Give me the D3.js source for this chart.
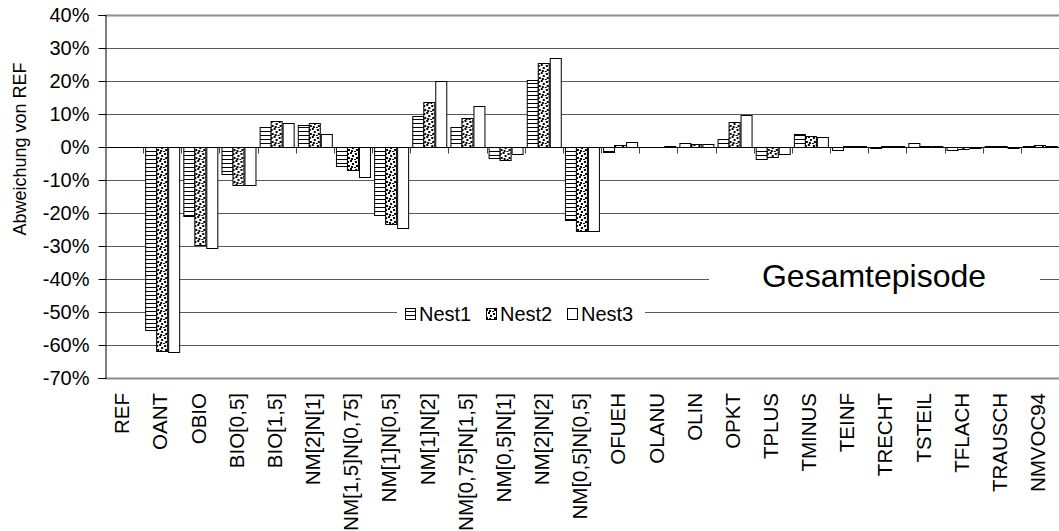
<!DOCTYPE html>
<html>
<head>
<meta charset="utf-8">
<script src="https://cdn.jsdelivr.net/npm/d3@7/dist/d3.min.js"></script>
<style>
  html, body { margin: 0; padding: 0; background: #fff; }
  svg { display: block; font-family: "Liberation Sans", Arial, sans-serif; }
</style>
</head>
<body>
<svg id="chart" width="1059" height="531"></svg>
<script>
// Scenario names along the x axis
const categories = ["REF", "OANT", "OBIO", "BIO[0,5]", "BIO[1,5]", "NM[2]N[1]", "NM[1,5]N[0,75]",
  "NM[1]N[0,5]", "NM[1]N[2]", "NM[0,75]N[1,5]", "NM[0,5]N[1]", "NM[2]N[2]", "NM[0,5]N[0,5]",
  "OFUEH", "OLANU", "OLIN", "OPKT", "TPLUS", "TMINUS", "TEINF", "TRECHT", "TSTEIL", "TFLACH",
  "TRAUSCH", "NMVOC94"];

// Deviation from REF in percent, one array per nesting level
const nest1 = [0, -55.5, -20.9, -8.2, 6.1, 6.6, -5.8, -20.6, 9.3, 6.1, -3.4, 20.2, -22.2,
  -1.4, 0.1, 1.2, 2.5, -3.5, 4.0, -0.8, -0.3, 1.2, -1.0, 0.2, 0.4];
const nest2 = [0, -61.7, -29.7, -11.5, 8.0, 7.2, -7.0, -23.3, 13.5, 8.7, -3.9, 25.5, -25.5,
  0.7, 0.0, 0.9, 7.7, -3.0, 3.3, 0.3, 0.2, 0.4, -0.6, 0.2, 0.5];
const nest3 = [0, -62.0, -30.7, -11.5, 7.2, 3.9, -9.2, -24.5, 20.0, 12.4, -2.0, 26.9, -25.6,
  1.4, 0.2, 1.0, 9.6, -2.2, 2.9, 0.3, 0.2, 0.3, -0.4, -0.3, 0.4];

const seriesNames = ["Nest1", "Nest2", "Nest3"];
const yTicks = [40, 30, 20, 10, 0, -10, -20, -30, -40, -50, -60, -70];
const yTitle = "Abweichung von REF";
const panelTitle = "Gesamtepisode";

const svg = d3.select("#chart");
const plotLeft = 105, plotRight = 1059, plotTop = 15, plotBottom = 378;

const x = d3.scaleBand().domain(categories).range([plotLeft, plotRight]).paddingInner(0).paddingOuter(0);
const inner = d3.scaleBand().domain(seriesNames).range([0, x.bandwidth()]).paddingInner(0).paddingOuter(1 / 6);
const y = d3.scaleLinear().domain([-70, 40]).range([plotBottom, plotTop]);

// Fill patterns
const defs = svg.append("defs");
const pH = defs.append("pattern").attr("id", "pat-h").attr("patternUnits", "userSpaceOnUse")
  .attr("width", 4).attr("height", 4);
pH.append("rect").attr("width", 4).attr("height", 4).attr("fill", "#fff");
pH.append("rect").attr("y", 3).attr("width", 4).attr("height", 1).attr("fill", "#000");

const pD = defs.append("pattern").attr("id", "pat-d").attr("patternUnits", "userSpaceOnUse")
  .attr("width", 8).attr("height", 8);
pD.append("rect").attr("width", 8).attr("height", 8).attr("fill", "#fff");
[[0, 0], [5, 1], [2, 3], [6, 5], [1, 6], [4, 7]].forEach(([px, py]) =>
  pD.append("rect").attr("x", px).attr("y", py).attr("width", 2).attr("height", 2).attr("fill", "#000"));

const fills = { Nest1: "url(#pat-h)", Nest2: "url(#pat-d)", Nest3: "#fff" };

// Horizontal gridlines
svg.append("g").selectAll("line").data(yTicks.filter(d => d !== 0)).join("line")
  .attr("x1", plotLeft).attr("x2", plotRight)
  .attr("y1", d => y(d) + 0.5).attr("y2", d => y(d) + 0.5)
  .attr("stroke", d => (d === 40 || d === -70) ? "#8c8c8c" : "#5a5a5a")
  .attr("stroke-width", d => (d === 40 || d === -70) ? 2 : 1);

// Panel title with white backing
svg.append("rect").attr("x", 709).attr("y", 262).attr("width", 331).attr("height", 32).attr("fill", "#fff");
svg.append("text").attr("x", 874).attr("y", 287).attr("text-anchor", "middle")
  .attr("font-size", 32).attr("fill", "#000").text(panelTitle);

// Bars
const rows = categories.map((c, i) => ({ cat: c, vals: [nest1[i], nest2[i], nest3[i]] }));
const groups = svg.append("g").selectAll("g").data(rows).join("g")
  .attr("transform", d => `translate(${x(d.cat)},0)`);
groups.selectAll("rect").data(d => d.vals.map((v, k) => ({ key: seriesNames[k], v })))
  .join("rect")
  .attr("x", d => Math.round(inner(d.key)) + 0.5)
  .attr("width", Math.round(inner.bandwidth()))
  .attr("y", d => Math.round(y(Math.max(0, d.v))) + 0.5)
  .attr("height", d => Math.max(0, Math.round(Math.abs(y(d.v) - y(0)))))
  .attr("fill", d => fills[d.key])
  .attr("stroke", "#000").attr("stroke-width", 1);

// Zero line with category separators
const xAxis = svg.append("g").attr("transform", `translate(0,${Math.round(y(0)) + 0.5})`);
xAxis.append("line").attr("x1", plotLeft).attr("x2", plotRight).attr("stroke", "#000");
xAxis.selectAll("line.sep").data(categories.slice(1)).join("line").attr("class", "sep")
  .attr("x1", d => Math.round(x(d)) + 0.5).attr("x2", d => Math.round(x(d)) + 0.5)
  .attr("y1", 0).attr("y2", 6).attr("stroke", "#444");

// Category labels, rotated
svg.append("g").selectAll("text").data(categories).join("text")
  .attr("transform", d => `translate(${x(d) + x.bandwidth() / 2 - 2},393) rotate(-90)`)
  .attr("text-anchor", "end").attr("dy", "0.35em")
  .attr("font-size", 20.5).attr("fill", "#000").text(d => d);

// Value axis
const yAxis = svg.append("g").attr("transform", `translate(${plotLeft + 0.5},0)`)
  .call(d3.axisLeft(y).tickValues(yTicks).tickSize(7).tickPadding(9).tickFormat(d => d + "%"));
yAxis.select(".domain").attr("stroke", "#000");
yAxis.selectAll(".tick line").attr("stroke", "#000");
yAxis.selectAll(".tick text").attr("font-size", 20).attr("fill", "#000")
  .attr("font-family", "Liberation Sans, Arial, sans-serif");

svg.append("text").attr("transform", "translate(26,149) rotate(-90)")
  .attr("text-anchor", "middle").attr("font-size", 18).attr("fill", "#000").text(yTitle);

// Legend
const lg = svg.append("g");
lg.append("rect").attr("x", 397).attr("y", 302).attr("width", 248).attr("height", 24).attr("fill", "#fff");
const legendX = [405, 486, 567];
seriesNames.forEach((s, k) => {
  lg.append("rect").attr("x", legendX[k] + 0.5).attr("y", 308.5).attr("width", 10).attr("height", 11)
    .attr("fill", fills[s]).attr("stroke", "#000");
  lg.append("text").attr("x", legendX[k] + 14).attr("y", 321).attr("font-size", 20)
    .attr("fill", "#000").text(s);
});
</script>
</body>
</html>
